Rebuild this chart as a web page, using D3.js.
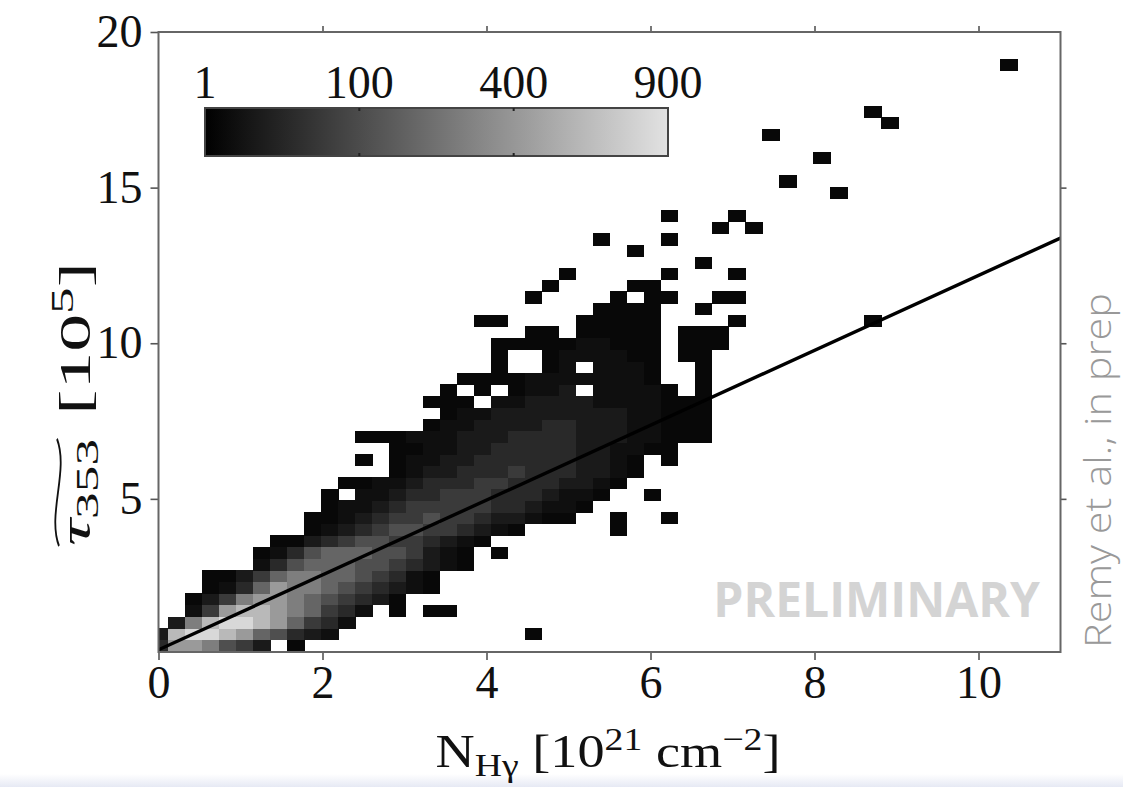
<!DOCTYPE html>
<html>
<head>
<meta charset="utf-8">
<script src="https://cdn.jsdelivr.net/npm/d3@7"></script>
<style>
  body { margin: 0; background: #fff; }
  svg { display: block; }
</style>
</head>
<body>
<svg id="chart" width="1123" height="787"></svg>
<script>
// histogram binning (data units)
var xBinStart = -0.087, xBinWidth = 0.207;
var yBinStart = 0.1, yBinHeight = 0.373;

// pixel count behind each level code used in the rows below
var levelCodes = ".123456789ab";
var levelCounts = [0, 1, 4, 12, 30, 60, 110, 180, 280, 420, 600, 820];

// dense band, one entry per y bin (bottom first): [first x bin, codes]
var bandRows = [
  [0, "4998653.1"],
  [0, "3abba976432"],
  [1, "38abba97542"],
  [2, "259aa987542.1.11"],
  [2, "1358998765431"],
  [3, "12479887654321"],
  [3, "11357887765421"],
  [6, "2467776654321"],
  [6, "1246777665321"],
  [7, "1134566554321"],
  [9, "1234566554321"],
  [9, "1123455655433211"],
  [10, "1223455555443221"],
  [10, "1.223445554443221"],
  [11, "11223444554443321"],
  [14, "123344454443321"],
  [12, "1.122334444443321"],
  [14, "11223344444332211"],
  [12, "111222333444433322111"],
  [16, "12233334433322111"],
  [17, "1223333333322111"],
  [16, "111.2233332222111"],
  [17, "1.1.1223.22221.1"],
  [18, "111122222221..1"],
  [20, "1..12.2221..1"],
  [20, "1..1222211.11"],
  [20, "1111122111.111"],
  [22, "11.11111.111"],
  [19, "11....11111"],
  [26, "1111..1"],
  [22, "1....1.11..11"],
  [23, "1....11"],
  [24, "1.....1...1"],
  [32, "1"],
  [28, "1"],
  [26, "1...1"],
  [33, "1.1"],
  [30, "1...1"]
];

// isolated single-count bins: [x bin, y bin]
var singleCells = [
  [22, 1], [20, 8], [27, 10], [27, 11], [30, 11], [29, 13], [30, 16],
  [34, 28], [42, 28], [40, 39], [37, 40], [39, 42], [36, 44],
  [43, 45], [42, 46], [50, 50]
];

// fitted line
var fitX = [0, 11];
var fitY = [0.15, 13.38];

var xTicks = [0, 2, 4, 6, 8, 10];
var yTicks = [5, 10, 15, 20];
var cbarTicks = [1, 100, 400, 900];

var svg = d3.select("#chart");
var plot = {left: 158.5, right: 1060.5, top: 32, bottom: 652};

var x = d3.scaleLinear().domain([0, 11]).range([plot.left, plot.right]);
var y = d3.scaleLinear().domain([0.08, 20]).range([plot.bottom, plot.top]);
var color = d3.scaleSqrt().domain([0, 900]).range(["#000000", "#e2e2e2"]);

// build bins
var cells = [];
bandRows.forEach(function(r, j) {
  r[1].split("").forEach(function(c, k) {
    var n = levelCounts[levelCodes.indexOf(c)];
    if (n > 0) cells.push({i: r[0] + k, j: j, count: n});
  });
});
singleCells.forEach(function(s) {
  cells.push({i: s[0], j: s[1], count: 1});
});

// bottom strip of the slide
var defs = svg.append("defs");
var sg = defs.append("linearGradient").attr("id", "strip")
  .attr("x1", 0).attr("y1", 0).attr("x2", 0).attr("y2", 1);
sg.append("stop").attr("offset", "0%").attr("stop-color", "#ffffff");
sg.append("stop").attr("offset", "100%").attr("stop-color", "#e6e9f4");
svg.append("rect").attr("x", 0).attr("y", 774).attr("width", 1123).attr("height", 13)
  .attr("fill", "url(#strip)");

defs.append("clipPath").attr("id", "clip")
  .append("rect")
  .attr("x", plot.left).attr("y", plot.top)
  .attr("width", plot.right - plot.left).attr("height", plot.bottom - plot.top);

svg.append("g")
  .attr("clip-path", "url(#clip)")
  .attr("shape-rendering", "crispEdges")
  .selectAll("rect")
  .data(cells)
  .enter()
  .append("rect")
  .attr("x", function(d) { return x(xBinStart + d.i * xBinWidth); })
  .attr("y", function(d) { return y(yBinStart + (d.j + 1) * yBinHeight); })
  .attr("width", function(d) { return x(xBinStart + (d.i + 1) * xBinWidth) - x(xBinStart + d.i * xBinWidth) + 0.5; })
  .attr("height", function(d) { return y(yBinStart + d.j * yBinHeight) - y(yBinStart + (d.j + 1) * yBinHeight) + 0.5; })
  .attr("fill", function(d) { return color(d.count); });

// fit line
svg.append("path")
  .datum(d3.zip(fitX, fitY))
  .attr("clip-path", "url(#clip)")
  .attr("d", d3.line().x(function(d) { return x(d[0]); }).y(function(d) { return y(d[1]); }))
  .attr("stroke", "#000")
  .attr("stroke-width", 3.4)
  .attr("fill", "none");

// axes
var serif = "'Liberation Serif', 'DejaVu Serif', serif";
function styleAxis(g) {
  g.select(".domain").remove();
  g.selectAll(".tick line").attr("stroke", "#555").attr("stroke-width", 1.6);
  g.selectAll(".tick text").attr("font-family", serif).attr("font-size", 46).attr("fill", "#111");
}

svg.append("g")
  .attr("transform", "translate(0," + plot.bottom + ")")
  .call(d3.axisBottom(x).tickValues(xTicks).tickFormat(d3.format("d")).tickSize(8).tickPadding(5))
  .call(styleAxis);
svg.append("g")
  .attr("transform", "translate(0," + plot.top + ")")
  .call(d3.axisTop(x).tickValues(xTicks.slice(1)).tickFormat("").tickSize(6))
  .call(styleAxis);
svg.append("g")
  .attr("transform", "translate(" + plot.left + ",0)")
  .call(d3.axisLeft(y).tickValues(yTicks).tickFormat(d3.format("d")).tickSize(8).tickPadding(8))
  .call(styleAxis);
svg.append("g")
  .attr("transform", "translate(" + plot.right + ",0)")
  .call(d3.axisRight(y).tickValues(yTicks.slice(0, 3)).tickFormat("").tickSize(6))
  .call(styleAxis);

svg.append("rect")
  .attr("x", plot.left).attr("y", plot.top)
  .attr("width", plot.right - plot.left).attr("height", plot.bottom - plot.top)
  .attr("fill", "none").attr("stroke", "#666").attr("stroke-width", 2);

// colour bar
var cb = {left: 205, right: 668, top: 108, bottom: 156};
var cbScale = d3.scaleSqrt().domain([0, 900]).range([cb.left, cb.right]);
var cg = defs.append("linearGradient").attr("id", "cbar");
d3.range(0, 1.0001, 0.1).forEach(function(t) {
  cg.append("stop").attr("offset", (t * 100) + "%")
    .attr("stop-color", color(cbScale.invert(cb.left + t * (cb.right - cb.left))));
});
svg.append("rect")
  .attr("x", cb.left).attr("y", cb.top)
  .attr("width", cb.right - cb.left).attr("height", cb.bottom - cb.top)
  .attr("fill", "url(#cbar)").attr("stroke", "#444").attr("stroke-width", 2);
svg.append("g").selectAll("path")
  .data(cbarTicks.slice(1, 3))
  .enter().append("path")
  .attr("d", function(d) {
    var px = cbScale(d);
    return "M" + px + "," + cb.top + "v3M" + px + "," + cb.bottom + "v-3";
  })
  .attr("stroke", "#222").attr("stroke-width", 2);
svg.append("g").selectAll("text")
  .data(cbarTicks)
  .enter().append("text")
  .attr("x", function(d) { return d <= 1 ? cb.left : cbScale(d); })
  .attr("y", 98)
  .attr("text-anchor", "middle")
  .attr("font-family", serif).attr("font-size", 46).attr("fill", "#111")
  .text(function(d) { return d; });

// y label (stretched along its length like the source figure)
var yl = svg.append("g").attr("transform", "translate(90,546) rotate(-90)");
var yli = yl.append("g");
var tauText = yli.append("text")
  .attr("font-family", serif).attr("font-size", 44).attr("fill", "#111");
tauText.append("tspan").attr("font-style", "italic").text("τ");
tauText.append("tspan").attr("font-size", 31).attr("dy", 8).text("353");
var tw = tauText.node().getBBox().width;
yli.append("path")
  .attr("d", "M0,-31 C" + (tw * 0.3) + ",-43 " + (tw * 0.7) + ",-21 " + tw + ",-33")
  .attr("fill", "none").attr("stroke", "#111").attr("stroke-width", 1.8);
var unitText = yli.append("text")
  .attr("x", tw + 14)
  .attr("font-family", serif).attr("font-size", 44).attr("fill", "#111");
unitText.append("tspan").text("[10");
unitText.append("tspan").attr("font-size", 31).attr("dy", -17).text("5");
unitText.append("tspan").attr("dy", 17).text("]");
var ylLen = yli.node().getBBox().width;
yli.attr("transform", "scale(" + (284 / ylLen) + ",1)");

// x label
var xl = svg.append("text")
  .attr("y", 0)
  .attr("text-anchor", "middle")
  .attr("font-family", serif).attr("font-size", 46).attr("fill", "#111");
xl.append("tspan").text("N");
xl.append("tspan").attr("font-size", 32).attr("dy", 9).text("Hγ");
xl.append("tspan").attr("dy", -9).text(" [10");
xl.append("tspan").attr("font-size", 32).attr("dy", -17).text("21");
xl.append("tspan").attr("dy", 17).text(" cm");
xl.append("tspan").attr("font-size", 32).attr("dy", -17).text("−2");
xl.append("tspan").attr("dy", 17).text("]");
var xlLen = xl.node().getBBox().width;
xl.attr("transform", "translate(608,767) scale(" + (345 / xlLen) + ",1)");

// annotations
svg.append("text")
  .attr("x", 1040).attr("y", 617)
  .attr("text-anchor", "end")
  .attr("font-family", "'Open Sans', sans-serif").attr("font-weight", 700)
  .attr("font-size", 48).attr("fill", "#d4d4d4")
  .text("PRELIMINARY");

svg.append("text")
  .attr("transform", "translate(1111,648) rotate(-90)")
  .attr("font-family", "'Open Sans', sans-serif").attr("font-weight", 300)
  .attr("font-size", 37).attr("fill", "#999")
  .attr("textLength", 355).attr("lengthAdjust", "spacingAndGlyphs")
  .text("Remy et al., in prep");
</script>
</body>
</html>
